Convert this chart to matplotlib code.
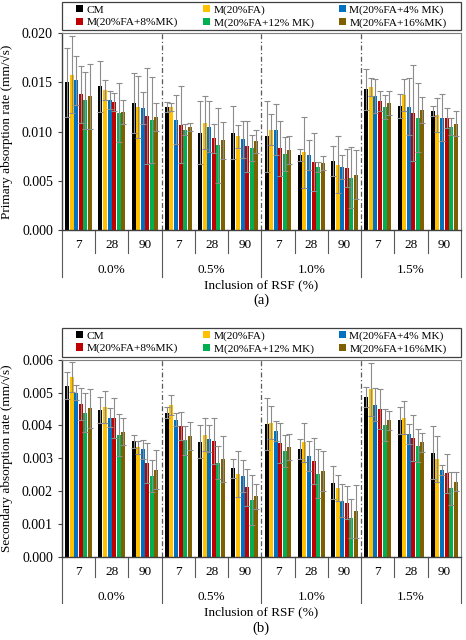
import numpy as np
import matplotlib
matplotlib.use("Agg")
import matplotlib.pyplot as plt
from matplotlib.patches import Rectangle
from matplotlib.ticker import FormatStrFormatter

plt.rcParams['font.family'] = ['Liberation Serif', 'DejaVu Serif']

# categories
days = ['7', '28', '90']
rsf = ['0.0%', '0.5%', '1.0%', '1.5%']
mixes = ['CM', 'M(20%FA)', 'M(20%FA+4% MK)', 'M(20%FA+8%MK)', 'M(20%FA+12% MK)', 'M(20%FA+16%MK)']
colors = ['#000000', '#FFC000', '#0070C0', '#C00000', '#00B050', '#7F6000']

# primary absorption rate (mm/sqrt(s)), 12 slots = 4 RSF x 3 ages
prim_cm = [0.0150, 0.0146, 0.0129, 0.0125, 0.0099, 0.0099, 0.0095, 0.0076, 0.0070, 0.0143, 0.0126, 0.0121]
prim_fa = [0.0158, 0.0142, 0.0125, 0.0125, 0.0109, 0.0095, 0.0102, 0.0079, 0.0066, 0.0145, 0.0137, 0.0117]
prim_mk4 = [0.0152, 0.0132, 0.0124, 0.0112, 0.0105, 0.0092, 0.0102, 0.0076, 0.0064, 0.0136, 0.0125, 0.0114]
prim_mk8 = [0.0138, 0.0130, 0.0116, 0.0107, 0.0093, 0.0085, 0.0083, 0.0069, 0.0063, 0.0131, 0.0119, 0.0114]
prim_mk12 = [0.0132, 0.0119, 0.0112, 0.0102, 0.0086, 0.0083, 0.0077, 0.0064, 0.0053, 0.0125, 0.0114, 0.0105]
prim_mk16 = [0.0136, 0.0120, 0.0115, 0.0105, 0.0091, 0.0090, 0.0081, 0.0068, 0.0056, 0.0129, 0.0122, 0.0108]

prim_cm_err = [0.0035, 0.0026, 0.0031, 0.0005, 0.0032, 0.0027, 0.0036, 0.0006, 0.0015, 0.0021, 0.0012, 0.0005]
prim_fa_err = [0.0039, 0.0010, 0.0032, 0.0004, 0.0027, 0.0012, 0.0016, 0.0036, 0.0029, 0.0009, 0.0016, 0.0017]
prim_mk4_err = [0.0025, 0.0009, 0.0016, 0.0025, 0.0026, 0.0019, 0.0026, 0.0015, 0.0012, 0.0017, 0.0029, 0.0024]
prim_mk8_err = [0.0029, 0.0009, 0.0049, 0.0039, 0.0015, 0.0026, 0.0028, 0.0030, 0.0019, 0.0010, 0.0049, 0.0010]
prim_mk12_err = [0.0029, 0.0030, 0.0044, 0.0006, 0.0038, 0.0013, 0.0017, 0.0005, 0.0031, 0.0012, 0.0035, 0.0009]
prim_mk16_err = [0.0033, 0.0012, 0.0014, 0.0004, 0.0019, 0.0012, 0.0014, 0.0007, 0.0025, 0.0012, 0.0013, 0.0013]

# secondary absorption rate
sec_cm = [0.00521, 0.00447, 0.00352, 0.00439, 0.00350, 0.00269, 0.00404, 0.00328, 0.00225, 0.00486, 0.00415, 0.00317]
sec_fa = [0.00548, 0.00456, 0.00333, 0.00463, 0.00371, 0.00251, 0.00408, 0.00348, 0.00209, 0.00510, 0.00423, 0.00297]
sec_mk4 = [0.00500, 0.00424, 0.00327, 0.00417, 0.00360, 0.00246, 0.00382, 0.00307, 0.00171, 0.00463, 0.00374, 0.00264]
sec_mk8 = [0.00465, 0.00422, 0.00285, 0.00398, 0.00353, 0.00212, 0.00347, 0.00292, 0.00165, 0.00450, 0.00363, 0.00254]
sec_mk12 = [0.00439, 0.00371, 0.00246, 0.00355, 0.00287, 0.00173, 0.00322, 0.00253, 0.00117, 0.00401, 0.00338, 0.00208]
sec_mk16 = [0.00452, 0.00381, 0.00265, 0.00368, 0.00297, 0.00184, 0.00334, 0.00261, 0.00138, 0.00415, 0.00348, 0.00229]

sec_cm_err = [0.00040, 0.00040, 0.00020, 0.00017, 0.00050, 0.00030, 0.00080, 0.00030, 0.00050, 0.00030, 0.00040, 0.00080]
sec_fa_err = [0.00046, 0.00050, 0.00020, 0.00030, 0.00050, 0.00070, 0.00050, 0.00060, 0.00040, 0.00080, 0.00050, 0.00070]
sec_mk4_err = [0.00022, 0.00030, 0.00030, 0.00020, 0.00040, 0.00050, 0.00030, 0.00045, 0.00050, 0.00050, 0.00030, 0.00015]
sec_mk8_err = [0.00050, 0.00060, 0.00060, 0.00043, 0.00070, 0.00056, 0.00060, 0.00070, 0.00050, 0.00060, 0.00070, 0.00060]
sec_mk12_err = [0.00060, 0.00065, 0.00050, 0.00044, 0.00050, 0.00076, 0.00050, 0.00075, 0.00060, 0.00050, 0.00050, 0.00050]
sec_mk16_err = [0.00060, 0.00040, 0.00060, 0.00043, 0.00070, 0.00037, 0.00040, 0.00060, 0.00080, 0.00030, 0.00030, 0.00030]

prim = [prim_cm, prim_fa, prim_mk4, prim_mk8, prim_mk12, prim_mk16]
prim_err = [prim_cm_err, prim_fa_err, prim_mk4_err, prim_mk8_err, prim_mk12_err, prim_mk16_err]
sec = [sec_cm, sec_fa, sec_mk4, sec_mk8, sec_mk12, sec_mk16]
sec_err = [sec_cm_err, sec_fa_err, sec_mk4_err, sec_mk8_err, sec_mk12_err, sec_mk16_err]


def draw_panel(ax, data, errs, ymax, ystep, ylabel, tag, sep_day, sep_grp, box_top):
    n = len(rsf) * len(days)
    x = np.arange(n)
    pitch = 0.137
    w = 0.12
    for i, (vals, ee) in enumerate(zip(data, errs)):
        xs = x + (i - 2.5) * pitch
        ax.bar(xs, vals, w, color=colors[i], label=mixes[i], zorder=2)
        ax.errorbar(xs, vals, yerr=ee, fmt='none', ecolor='#8c8c8c',
                    elinewidth=0.8, capsize=2, capthick=0.8, zorder=3)

    ax.set_xlim(-0.5, n - 0.5)
    ax.set_ylim(0, ymax)
    ax.set_yticks(np.arange(0, ymax + ystep / 2, ystep))
    ax.yaxis.set_major_formatter(FormatStrFormatter('%.3f'))
    ax.tick_params(axis='y', labelsize=10, length=3, direction='out', color='#404040')
    ax.set_xticks([])
    for s in ['top', 'right']:
        ax.spines[s].set_color('#7f7f7f')
        ax.spines[s].set_linewidth(0.8)
    for s in ['left', 'bottom']:
        ax.spines[s].set_color('#404040')
        ax.spines[s].set_linewidth(1.0)

    # dash-dot separators between RSF groups
    for b in range(1, len(rsf)):
        ax.axvline(b * len(days) - 0.5, color='#595959', lw=0.9,
                   ls=(0, (4, 2, 1, 2)), zorder=1)

    tr = ax.get_xaxis_transform()
    # age labels and separators
    for k in range(n):
        ax.text(k, -0.076, days[k % len(days)], transform=tr, ha='center',
                va='center', fontsize=9.5)
    for k in range(n + 1):
        ybot = sep_grp if k % len(days) == 0 else sep_day
        ax.plot([k - 0.5, k - 0.5], [0, ybot], transform=tr, color='#595959',
                lw=0.8, clip_on=False)
    for g, lab in enumerate(rsf):
        ax.text(g * len(days) + 1, -0.203, lab, transform=tr, ha='center',
                va='center', fontsize=9.5)
    ax.text(0.5, -0.283, 'Inclusion of RSF (%)', transform=ax.transAxes,
            ha='center', va='center', fontsize=9.5)
    ax.text(0.5, -0.36, tag, transform=ax.transAxes, ha='center',
            va='center', fontsize=10.5)

    ax.set_ylabel(ylabel, fontsize=9.5)
    ax.yaxis.set_label_coords(-0.123, 0.5)

    # legend box spanning the plot width
    ax.add_patch(Rectangle((0.0, 1.015), 1.0, box_top - 1.015, transform=ax.transAxes,
                           fill=False, edgecolor='#404040', lw=0.9, clip_on=False))
    h, l = ax.get_legend_handles_labels()
    order = [0, 3, 1, 4, 2, 5]
    ax.legend([h[i] for i in order], [l[i] for i in order], ncol=3,
              loc='center', bbox_to_anchor=(0.03, 1.015, 0.94, box_top - 1.015),
              mode='expand', borderaxespad=0, fontsize=8.2,
              frameon=False, handlelength=0.6, handleheight=0.6,
              handletextpad=0.3, borderpad=0.2, labelspacing=0.25,
              columnspacing=1.0)


fig = plt.figure(figsize=(4.66, 6.4), dpi=100)
ax1 = fig.add_axes([0.133, 0.641, 0.856, 0.307])
ax2 = fig.add_axes([0.133, 0.130, 0.856, 0.308])

draw_panel(ax1, prim, prim_err, 0.020, 0.005, 'Primary absorption rate (mm/\u221as)',
           '(a)', -0.117, -0.239, 1.157)
draw_panel(ax2, sec, sec_err, 0.006, 0.001, 'Secondary absorption rate (mm/\u221as)',
           '(b)', -0.10, -0.234, 1.162)

fig.savefig('out.png', dpi=100)
